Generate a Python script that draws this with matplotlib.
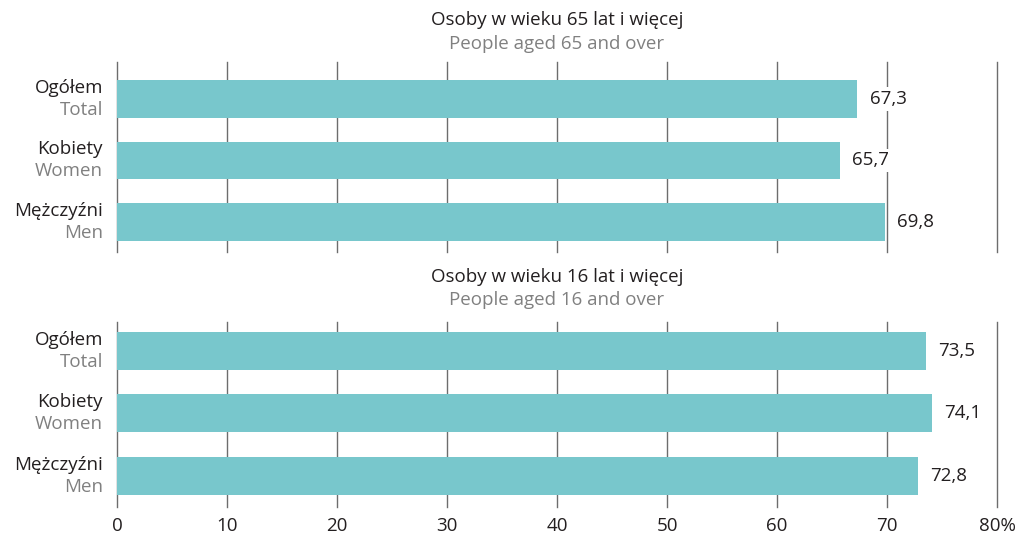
import matplotlib.pyplot as plt
from matplotlib.transforms import blended_transform_factory, offset_copy

plt.rcParams['font.family'] = ['Open Sans', 'DejaVu Sans']

# Dane
kategorie_pl = ['Ogółem', 'Kobiety', 'Mężczyźni']
kategorie_en = ['Total', 'Women', 'Men']
wartosci_65 = [67.3, 65.7, 69.8]
wartosci_16 = [73.5, 74.1, 72.8]
tytuly_pl = ['Osoby w wieku 65 lat i więcej', 'Osoby w wieku 16 lat i więcej']
tytuly_en = ['People aged 65 and over', 'People aged 16 and over']
ticki = [0, 10, 20, 30, 40, 50, 60, 70, 80]
tick_labels = ['0', '10', '20', '30', '40', '50', '60', '70', '80%']

kolor = '#78c7cc'
czarny = '#231f20'
szary = '#808080'
siatka = '#6d6d6d'
fs = 13.5

W, H = 1032, 534
fig = plt.figure(figsize=(W / 100, H / 100), dpi=100)

# pozycje osi w pikselach: (y_gora, y_dol, ylim, y tytulu pl, y tytulu en)
panele = [(62, 252, (2.49, -0.6), 20, 44), (322, 507, (2.5, -0.46), 277, 300)]
dane = [wartosci_65, wartosci_16]

for i, (top, bot, ylim, ypl, yen) in enumerate(panele):
    ax = fig.add_axes([117 / W, 1 - bot / H, 880 / W, (bot - top) / H])
    ax.set_xlim(0, 80)
    ax.set_ylim(*ylim)
    for s in ax.spines.values():
        s.set_visible(False)
    for t in ticki:
        ax.axvline(t, color=siatka, lw=1.0, zorder=0, clip_on=False)
    ax.barh(range(3), dane[i], height=0.61, color=kolor, zorder=2)
    for j, v in enumerate(dane[i]):
        ax.annotate(f'{v:.1f}'.replace('.', ','), (v, j), xytext=(9, 0),
                    textcoords='offset points', va='center', ha='left',
                    fontsize=fs, color=czarny, zorder=3,
                    bbox=dict(boxstyle='square,pad=0.15', fc='white', ec='none'))
    ax.set_yticks([])
    tr = blended_transform_factory(fig.transFigure, ax.transData)
    for j in range(3):
        ax.text(103 / W, j, kategorie_pl[j], transform=offset_copy(tr, fig, y=8, units='points'),
                ha='right', va='center', fontsize=fs, color=czarny)
        ax.text(103 / W, j, kategorie_en[j], transform=offset_copy(tr, fig, y=-8, units='points'),
                ha='right', va='center', fontsize=fs, color=szary)
    fig.text(557 / W, 1 - ypl / H, tytuly_pl[i], ha='center', va='center',
             fontsize=fs, color=czarny)
    fig.text(557 / W, 1 - yen / H, tytuly_en[i], ha='center', va='center',
             fontsize=fs, color=szary)
    if i == 1:
        ax.set_xticks(ticki)
        ax.set_xticklabels(tick_labels, fontsize=fs, color=czarny)
        ax.tick_params(axis='x', length=0, pad=7)
    else:
        ax.set_xticks([])

fig.savefig('out.png', dpi=100)
